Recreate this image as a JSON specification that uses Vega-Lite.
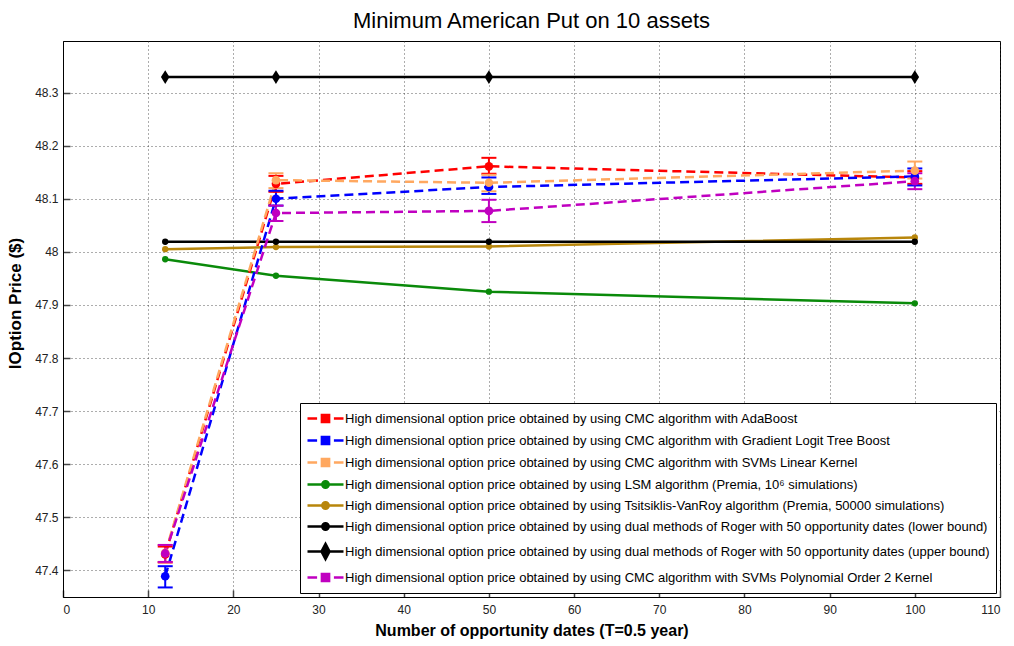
{
  "$schema": "https://vega.github.io/schema/vega-lite/v6.json",
  "autosize": "none",
  "width": 937,
  "height": 556,
  "padding": {"left": 63, "top": 41, "right": 14, "bottom": 49},
  "background": "white",
  "config": {
    "font": "Liberation Sans",
    "view": {"stroke": "black", "strokeWidth": 1},
    "axis": {
      "grid": true, "gridColor": "#333333", "gridDash": [1, 3], "gridWidth": 1, "gridOpacity": 0.8,
      "domainColor": "black", "tickColor": "#444444", "tickSize": -7, "tickWidth": 1.5,
      "labelFont": "Liberation Sans", "labelFontSize": 12, "labelColor": "#222222",
      "titleFont": "Liberation Sans", "titleFontSize": 16, "titleFontWeight": "bold", "titleColor": "black"
    },
    "legend": {"labelFont": "Liberation Sans", "labelFontSize": 13, "labelColor": "black", "labelLimit": 1000}
  },
  "title": {"text": "Minimum American Put on 10 assets", "fontSize": 22, "fontWeight": "normal", "font": "Liberation Sans", "color": "black", "offset": 8, "anchor": "middle"},
  "data": {"values": [
    {"series": "High dimensional option price obtained by using CMC algorithm with AdaBoost", "family": "CMC", "x": 12, "y": 47.43, "lo": 47.415, "hi": 47.445},
    {"series": "High dimensional option price obtained by using CMC algorithm with AdaBoost", "family": "CMC", "x": 25, "y": 48.128, "lo": 48.113, "hi": 48.143},
    {"series": "High dimensional option price obtained by using CMC algorithm with AdaBoost", "family": "CMC", "x": 50, "y": 48.161, "lo": 48.147, "hi": 48.177},
    {"series": "High dimensional option price obtained by using CMC algorithm with AdaBoost", "family": "CMC", "x": 100, "y": 48.14, "lo": 48.128, "hi": 48.152},
    {"series": "High dimensional option price obtained by using CMC algorithm with Gradient Logit Tree Boost", "family": "CMC", "x": 12, "y": 47.389, "lo": 47.368, "hi": 47.408},
    {"series": "High dimensional option price obtained by using CMC algorithm with Gradient Logit Tree Boost", "family": "CMC", "x": 25, "y": 48.1, "lo": 48.087, "hi": 48.115},
    {"series": "High dimensional option price obtained by using CMC algorithm with Gradient Logit Tree Boost", "family": "CMC", "x": 50, "y": 48.122, "lo": 48.109, "hi": 48.14},
    {"series": "High dimensional option price obtained by using CMC algorithm with Gradient Logit Tree Boost", "family": "CMC", "x": 100, "y": 48.142, "lo": 48.125, "hi": 48.157},
    {"series": "High dimensional option price obtained by using CMC algorithm with SVMs Linear Kernel", "family": "CMC", "x": 12, "y": 47.433, "lo": 47.416, "hi": 47.448},
    {"series": "High dimensional option price obtained by using CMC algorithm with SVMs Linear Kernel", "family": "CMC", "x": 25, "y": 48.135, "lo": 48.12, "hi": 48.148},
    {"series": "High dimensional option price obtained by using CMC algorithm with SVMs Linear Kernel", "family": "CMC", "x": 50, "y": 48.13, "lo": 48.114, "hi": 48.145},
    {"series": "High dimensional option price obtained by using CMC algorithm with SVMs Linear Kernel", "family": "CMC", "x": 100, "y": 48.153, "lo": 48.138, "hi": 48.17},
    {"series": "High dimensional option price obtained by using LSM algorithm (Premia, 10⁶ simulations)", "family": "ref", "x": 12, "y": 47.986},
    {"series": "High dimensional option price obtained by using LSM algorithm (Premia, 10⁶ simulations)", "family": "ref", "x": 25, "y": 47.955},
    {"series": "High dimensional option price obtained by using LSM algorithm (Premia, 10⁶ simulations)", "family": "ref", "x": 50, "y": 47.925},
    {"series": "High dimensional option price obtained by using LSM algorithm (Premia, 10⁶ simulations)", "family": "ref", "x": 100, "y": 47.903},
    {"series": "High dimensional option price obtained by using Tsitsiklis-VanRoy algorithm (Premia, 50000 simulations)", "family": "ref", "x": 12, "y": 48.005},
    {"series": "High dimensional option price obtained by using Tsitsiklis-VanRoy algorithm (Premia, 50000 simulations)", "family": "ref", "x": 25, "y": 48.009},
    {"series": "High dimensional option price obtained by using Tsitsiklis-VanRoy algorithm (Premia, 50000 simulations)", "family": "ref", "x": 50, "y": 48.01},
    {"series": "High dimensional option price obtained by using Tsitsiklis-VanRoy algorithm (Premia, 50000 simulations)", "family": "ref", "x": 100, "y": 48.027},
    {"series": "High dimensional option price obtained by using dual methods of Roger with 50 opportunity dates (lower bound)", "family": "ref", "x": 12, "y": 48.019},
    {"series": "High dimensional option price obtained by using dual methods of Roger with 50 opportunity dates (lower bound)", "family": "ref", "x": 25, "y": 48.019},
    {"series": "High dimensional option price obtained by using dual methods of Roger with 50 opportunity dates (lower bound)", "family": "ref", "x": 50, "y": 48.019},
    {"series": "High dimensional option price obtained by using dual methods of Roger with 50 opportunity dates (lower bound)", "family": "ref", "x": 100, "y": 48.019},
    {"series": "High dimensional option price obtained by using dual methods of Roger with 50 opportunity dates (upper bound)", "family": "upper", "x": 12, "y": 48.329},
    {"series": "High dimensional option price obtained by using dual methods of Roger with 50 opportunity dates (upper bound)", "family": "upper", "x": 25, "y": 48.329},
    {"series": "High dimensional option price obtained by using dual methods of Roger with 50 opportunity dates (upper bound)", "family": "upper", "x": 50, "y": 48.329},
    {"series": "High dimensional option price obtained by using dual methods of Roger with 50 opportunity dates (upper bound)", "family": "upper", "x": 100, "y": 48.329},
    {"series": "High dimensional option price obtained by using CMC algorithm with SVMs Polynomial Order 2 Kernel", "family": "CMC", "x": 12, "y": 47.432, "lo": 47.416, "hi": 47.448},
    {"series": "High dimensional option price obtained by using CMC algorithm with SVMs Polynomial Order 2 Kernel", "family": "CMC", "x": 25, "y": 48.073, "lo": 48.058, "hi": 48.087},
    {"series": "High dimensional option price obtained by using CMC algorithm with SVMs Polynomial Order 2 Kernel", "family": "CMC", "x": 50, "y": 48.077, "lo": 48.056, "hi": 48.098},
    {"series": "High dimensional option price obtained by using CMC algorithm with SVMs Polynomial Order 2 Kernel", "family": "CMC", "x": 100, "y": 48.133, "lo": 48.118, "hi": 48.148}
  ]},
  "encoding": {
    "x": {"field": "x", "type": "quantitative", "scale": {"domain": [0, 110], "nice": false},
      "axis": {"values": [0, 10, 20, 30, 40, 50, 60, 70, 80, 90, 100, 110], "title": "Number of opportunity dates (T=0.5 year)", "labelPadding": 14, "titlePadding": 7}},
    "y": {"field": "y", "type": "quantitative", "scale": {"domain": [47.35, 48.397], "nice": false, "zero": false},
      "axis": {"values": [47.4, 47.5, 47.6, 47.7, 47.8, 47.9, 48, 48.1, 48.2, 48.3], "format": "~g", "title": "lOption Price ($)", "labelPadding": 12, "titlePadding": 10, "titleFontSize": 17, "titleY": 262}},
    "color": {"field": "series", "type": "nominal",
      "scale": {"domain": [
        "High dimensional option price obtained by using CMC algorithm with AdaBoost",
        "High dimensional option price obtained by using CMC algorithm with Gradient Logit Tree Boost",
        "High dimensional option price obtained by using CMC algorithm with SVMs Linear Kernel",
        "High dimensional option price obtained by using LSM algorithm (Premia, 10⁶ simulations)",
        "High dimensional option price obtained by using Tsitsiklis-VanRoy algorithm (Premia, 50000 simulations)",
        "High dimensional option price obtained by using dual methods of Roger with 50 opportunity dates (lower bound)",
        "High dimensional option price obtained by using dual methods of Roger with 50 opportunity dates (upper bound)",
        "High dimensional option price obtained by using CMC algorithm with SVMs Polynomial Order 2 Kernel"],
        "range": ["#FF0000", "#0000FF", "#FFA860", "#0A8A0A", "#B8860B", "#000000", "#000000", "#C000C0"]},
      "legend": {
        "title": null, "orient": "bottom-right", "offset": 4, "padding": 6,
        "strokeColor": "black", "fillColor": "white", "cornerRadius": 0,
        "symbolSize": 256, "symbolOffset": 10, "labelOffset": 10, "rowPadding": 3,
        "encode": {"symbols": {"update": {
          "shape": {"signal": "(datum.index < 3 || datum.index == 7) ? 'M-2.25,0H-1.05M-0.45,-0.45H0.45V0.45H-0.45ZM-0.45,0H0.45M1.05,0H2.25' : (datum.index == 6 ? 'M-2.25,0H2.25M0,-0.95L0.5,0L0,0.95L-0.5,0Z' : 'M-2.25,0H2.25M-0.4,0A0.4,0.4 0 1,0 0.4,0A0.4,0.4 0 1,0 -0.4,0Z')"},
          "stroke": {"scale": "color", "field": "value"},
          "fill": {"signal": "(datum.index < 3 || datum.index == 7) ? 'rgba(255,255,255,0)' : scale('color', datum.value)"},
          "strokeWidth": {"value": 2.5},
          "opacity": {"value": 1},
          "strokeOpacity": {"value": 1}
        }}}
      }
    }
  },
  "layer": [
    {"transform": [{"filter": "datum.family != 'CMC'"}], "mark": {"type": "line", "strokeWidth": 2.5}, "encoding": {"detail": {"field": "series"}}},
    {"transform": [{"filter": "datum.family == 'CMC'"}], "mark": {"type": "line", "strokeWidth": 2.5, "strokeDash": [9, 5]}, "encoding": {"detail": {"field": "series"}}},
    {"transform": [{"filter": "datum.family == 'CMC'"}], "mark": {"type": "rule", "strokeWidth": 2}, "encoding": {"y": {"field": "lo", "type": "quantitative"}, "y2": {"field": "hi"}}},
    {"transform": [{"filter": "datum.family == 'CMC'"}], "mark": {"type": "tick", "orient": "horizontal", "size": 15, "thickness": 2, "opacity": 1}, "encoding": {"y": {"field": "lo", "type": "quantitative"}}},
    {"transform": [{"filter": "datum.family == 'CMC'"}], "mark": {"type": "tick", "orient": "horizontal", "size": 15, "thickness": 2, "opacity": 1}, "encoding": {"y": {"field": "hi", "type": "quantitative"}}},
    {"transform": [{"filter": "datum.family == 'CMC'"}], "mark": {"type": "point", "filled": true, "opacity": 1, "shape": "circle", "size": 75}, "encoding": {}},
    {"transform": [{"filter": "datum.family == 'ref'"}], "mark": {"type": "point", "filled": true, "opacity": 1, "shape": "circle", "size": 40}, "encoding": {}},
    {"transform": [{"filter": "datum.family == 'upper'"}], "mark": {"type": "point", "filled": true, "opacity": 1, "shape": "M0,-1L0.62,0L0,1L-0.62,0Z", "size": 190}, "encoding": {}}
  ]
}
